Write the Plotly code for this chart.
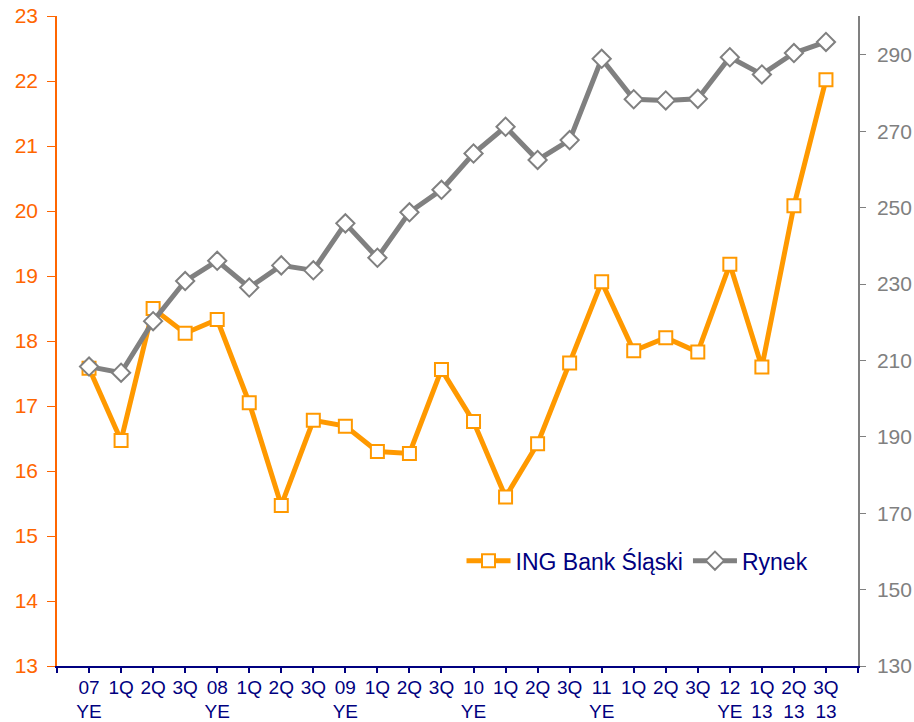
import plotly.graph_objects as go

x_labels = ["07<br>YE", "1Q", "2Q", "3Q", "08<br>YE", "1Q", "2Q", "3Q", "09<br>YE",
            "1Q", "2Q", "3Q", "10<br>YE", "1Q", "2Q", "3Q", "11<br>YE",
            "1Q", "2Q", "3Q", "12<br>YE", "1Q<br>13", "2Q<br>13", "3Q<br>13"]

ing_values = [17.58, 16.47, 18.50, 18.12, 18.33, 17.05, 15.47, 16.78, 16.69,
              16.30, 16.27, 17.56, 16.76, 15.60, 16.42, 17.66, 18.91,
              17.85, 18.05, 17.83, 19.18, 17.60, 20.08, 22.02]

rynek_values = [208.4, 206.8, 220.3, 230.8, 236.1, 229.1, 234.9, 233.6, 245.9,
                236.9, 248.8, 254.7, 264.2, 271.2, 262.5, 267.7, 289.0,
                278.4, 278.1, 278.5, 289.4, 284.9, 290.5, 293.4]

series_names = ["ING Bank Śląski", "Rynek"]
left_ticks = list(range(13, 24))
right_ticks = list(range(130, 300, 20))

xs = list(range(len(x_labels)))
ORANGE = "#FF9900"
LEFT = "#FF6600"
GRAY = "#808080"
NAVY = "#000080"
FONT = "Liberation Sans, Arial, sans-serif"

fig = go.Figure()
fig.add_trace(go.Scatter(
    x=xs, y=ing_values, name=series_names[0], mode="lines+markers",
    line=dict(color=ORANGE, width=5),
    marker=dict(symbol="square", size=13, color="white",
                line=dict(color=ORANGE, width=2)),
    yaxis="y"))
fig.add_trace(go.Scatter(
    x=xs, y=rynek_values, name=series_names[1], mode="lines+markers",
    line=dict(color=GRAY, width=5),
    marker=dict(symbol="diamond", size=14, color="white",
                line=dict(color=GRAY, width=2)),
    yaxis="y2"))

fig.update_layout(
    width=914, height=722,
    margin=dict(l=57, r=56, t=16, b=56, autoexpand=False),
    paper_bgcolor="white", plot_bgcolor="white",
    font=dict(family=FONT, size=19, color=NAVY),
    showlegend=True,
    legend=dict(orientation="h", x=0.505, xanchor="left", y=0.162, yanchor="middle",
                font=dict(family=FONT, size=23, color=NAVY),
                bgcolor="rgba(0,0,0,0)", itemwidth=44),
    xaxis=dict(range=[-1, 24], tickmode="array",
               tickvals=list(range(-1, 25)),
               ticktext=[""] + x_labels + [""],
               showgrid=False, zeroline=False, automargin=False,
               showline=True, linecolor=NAVY, linewidth=1.5,
               ticks="outside", ticklen=5, tickcolor=NAVY, tickwidth=1.5,
               tickfont=dict(family=FONT, size=19, color=NAVY),
               ticklabelstandoff=-2, ticklabeloverflow="allow",
               tickangle=0),
    yaxis=dict(range=[13, 23], tickvals=left_ticks,
               showgrid=False, zeroline=False, automargin=False,
               showline=True, linecolor=LEFT, linewidth=1.5,
               ticks="outside", ticklen=8, tickcolor=LEFT,
               ticklabelstandoff=5, ticklabeloverflow="allow",
               tickfont=dict(family=FONT, size=21, color=LEFT)),
    yaxis2=dict(range=[130, 300.2], tickvals=right_ticks,
                overlaying="y", side="right",
                showgrid=False, zeroline=False, automargin=False,
                showline=True, linecolor=GRAY, linewidth=1.5,
                ticks="outside", ticklen=6, tickcolor=GRAY,
                ticklabelstandoff=7, ticklabeloverflow="allow",
                tickfont=dict(family=FONT, size=21, color=GRAY)),
)

fig.write_html("out.html",
               config={"displayModeBar": False},
               post_script="document.body.style.margin='0';document.body.style.overflow='hidden';")
